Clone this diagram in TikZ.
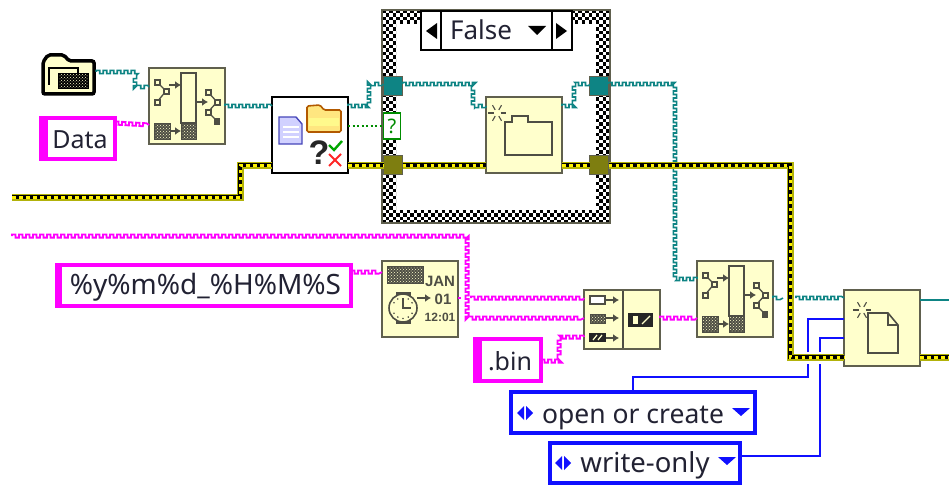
\documentclass[tikz,border=0pt]{standalone}
\usepackage{fontspec}
\setmainfont{Noto Sans}
\newfontfamily\heavyfont{Liberation Sans}
\usetikzlibrary{decorations,arrows.meta,patterns}
\definecolor{strpink}{HTML}{FF00FF}
\definecolor{pathteal}{HTML}{0E8484}
\definecolor{cream}{HTML}{FFFFCC}
\definecolor{edge}{HTML}{60604E}
\definecolor{ink}{HTML}{4E4E44}
\definecolor{errolive}{HTML}{7E7E10}
\definecolor{enumblue}{HTML}{1010FF}
\definecolor{txt}{HTML}{222233}
\pgfdeclaredecoration{sqwave}{up}{
 \state{up}[width=3.5pt,next state=down]{\pgfpathlineto{\pgfpoint{0pt}{1.6pt}}\pgfpathlineto{\pgfpoint{3.5pt}{1.6pt}}}
 \state{down}[width=3.5pt,next state=up]{\pgfpathlineto{\pgfpoint{0pt}{-1.6pt}}\pgfpathlineto{\pgfpoint{3.5pt}{-1.6pt}}}
 \state{final}{\pgfpathlineto{\pgfpointdecoratedpathlast}}
}
\tikzset{
 strwire/.style={draw=strpink,line width=1.8pt,decorate,decoration={sqwave}},
 tealwire/.style={draw=pathteal,line width=1.6pt,decorate,decoration={sqwave}},
 bluewire/.style={draw=enumblue,line width=1.5pt},
 tile/.style={draw=edge,fill=cream,line width=1.6pt,rectangle,anchor=north west,inner sep=0pt,outer sep=0pt,minimum width=76pt,minimum height=76pt},
 whitetile/.style={tile,draw=black,fill=white},
 strconst/.style={draw=strpink,fill=white,line width=4pt,rectangle,inner sep=0pt,outer sep=0pt,font=\fontsize{25}{25}\selectfont,text=txt,text depth=0pt},
 ringconst/.style={strconst,draw=enumblue},
 tunnel/.style={rectangle,draw=edge,line width=1.5pt,minimum width=19pt,minimum height=19pt,inner sep=0pt,outer sep=0pt},
 pen/.style={draw=ink,line width=1.3pt},
 arr/.style={draw=ink,line width=1.6pt,-{Latex[length=6pt,width=8pt]}},
 sq/.style={draw=ink,fill=cream,line width=1.1pt},
 dotbox/.style={draw=ink,line width=1pt,preaction={fill=ink},pattern=crosshatch dots,pattern color=cream},
 lcd/.style={text=ink,inner sep=0pt},
}
\newcommand{\errwire}[1]{%
 \draw[draw=errolive!60!yellow,line width=7pt,line join=miter] #1;
 \draw[draw=black,line width=4.6pt,line join=miter] #1;
 \draw[draw=yellow,line width=3pt,dash pattern=on 3.5pt off 3.5pt] #1;
}
\newcommand{\buildicon}[2]{%
 \begin{scope}[shift={(#1,#2)}]
 \draw[pen] (8,14)--(17,23)--(8,34);
 \draw[sq] (6,12) rectangle (11,17); \draw[sq] (15,21) rectangle (20,26); \draw[sq] (6,32) rectangle (11,37);
 \draw[arr] (20,17)--(32,17);
 \draw[pen] (32,5) rectangle (47,55);
 \draw[dotbox] (32,55) rectangle (47,71);
 \draw[dotbox] (5,55) rectangle (21,71);
 \draw[arr] (22,63)--(32,63);
 \draw[arr] (48,34)--(59,34);
 \draw[pen] (59,24)--(68,34)--(59,44)--(68,53);
 \draw[sq] (57,22) rectangle (62,27); \draw[sq] (66,32) rectangle (71,37); \draw[sq] (57,42) rectangle (62,47);
 \fill[ink] (65,50) rectangle (71,57);
 \end{scope}}
\newcommand{\burst}[2]{%
 \begin{scope}[shift={(#1,#2)}]
 \foreach \a in {0,60,120,180,240,300}{\draw[ink,line width=1.1pt] (\a:3.5pt)--(\a:9pt);}
 \end{scope}}
% checker band: a clipped stack of dashed rows
\newcommand{\checkband}[4]{%
 \begin{scope}
 \clip (#1,#2) rectangle (#3,#4);
 \foreach \k in {0,...,61}{
  \pgfmathsetmacro{\rowy}{10+3.5*\k+1.75}
  \pgfmathsetmacro{\rowp}{mod(\k,2)*3.5}
  \ifdim \rowy pt>#2 pt\relax\ifdim \rowy pt<\numexpr#4+3\relax pt\relax
   \draw[black,line width=3.5pt,dash pattern=on 3.5pt off 3.5pt,dash phase=\rowp pt] (382,\rowy)--(610,\rowy);
  \fi\fi
 }
 \end{scope}}
\begin{document}
\begin{tikzpicture}[x=1pt,y=-1pt]
\useasboundingbox (0,0) rectangle (949,484);
\fill[white] (0,0) rectangle (949,484);

\coordinate (leftend) at (12,197);
\coordinate (strleft) at (12,236);
\coordinate (rightend) at (949,300);

% --- case structure frame
\coordinate (caseTL) at (382,10);
\coordinate (caseBR) at (610,223);
\fill[white] (caseTL) rectangle (caseBR);
\checkband{382}{10}{610}{24}
\checkband{382}{209}{610}{223}
\checkband{382}{24}{396}{209}
\checkband{596}{24}{610}{209}
\draw[edge,line width=1.5pt] (caseTL) rectangle (caseBR);

% --- nodes (tile bodies)
\node[tile] (build1) at (149,68) {};
\node[whitetile] (exists) at (272,97) {};
\node[tile] (mkdir) at (486,97) {};
\node[tile] (build2) at (697,261) {};
\node[tile] (openfile) at (844,290) {};
\node[tile] (fmt) at (382,261) {};
\node[tile,minimum height=59pt] (concat) at (584,290) {};

% --- tunnels
\node[tunnel,fill=pathteal] (tTL) at (393,86) {};
\node[tunnel,fill=pathteal] (tTR) at (599,86) {};
\node[tunnel,fill=errolive] (tBL) at (393,165) {};
\node[tunnel,fill=errolive] (tBR) at (599,165) {};
\node[rectangle,draw=green!55!black,fill=white,line width=1.5pt,minimum width=17pt,minimum height=26pt,inner sep=0pt,font=\fontsize{20}{20}\selectfont,text=green!55!black] (sel) at (392,126) {?};

% --- selector
\node[rectangle,draw=black,fill=white,line width=1.4pt,minimum width=151pt,minimum height=39pt,anchor=north west,inner sep=0pt,outer sep=0pt,font=\fontsize{26}{26}\selectfont,text=txt,text height=18pt,text depth=0pt] (selbox) at (421,11) {\hspace{-31pt}False};
\draw[black,line width=1.4pt] (441,11)--(441,50) (552,11)--(552,50);
\fill[black] (426,31)--(437,23)--(437,39)--cycle;
\fill[black] (567,31)--(556,23)--(556,39)--cycle;
\fill[black] (528,26)--(546,26)--(537,35)--cycle;

% --- constants
\node[strconst,minimum width=74pt,minimum height=41pt,text height=19pt] (data) at (78,138.5) {\hspace{4pt}Data};
\fill[strpink] (data.north west) rectangle +(7,41);
\node[strconst,minimum width=294pt,minimum height=41pt,text height=17pt,font=\fontsize{28}{28}\selectfont] (fmtstr) at (204,285.5) {\hspace{3pt}\%y\%m\%d\_\%H\%M\%S};
\fill[strpink] (fmtstr.north west) rectangle +(5,41);
\node[strconst,minimum width=66pt,minimum height=42pt,text height=20pt] (bin) at (508,360) {\hspace{4pt}.bin};
\fill[strpink] (bin.north west) rectangle +(7,42);
\node[ringconst,minimum width=244pt,minimum height=41pt,text height=21pt,font=\fontsize{26.5}{26.5}\selectfont] (ringA) at (633,412.5) {open or create\hspace{6pt}};
\node[ringconst,minimum width=190pt,minimum height=40pt,text height=18pt,font=\fontsize{27.5}{27.5}\selectfont] (ringB) at (645,463) {write-only\hspace{6pt}};
\fill[enumblue] (732,408)--(750,408)--(741,416)--cycle;
\fill[enumblue] (718,457)--(736,457)--(727,465)--cycle;
\fill[enumblue] (517,413)--(524,406)--(524,420)--cycle (526,406)--(533,413)--(526,420)--cycle;
\fill[enumblue] (555,463)--(562,456)--(562,470)--cycle (564,456)--(571,463)--(564,470)--cycle;

% --- folder constant
\node[inner sep=0pt,minimum size=0pt] (folder) at (96,72) {};
\draw[black,line width=3.5pt,fill=cream,rounded corners=2pt] (43,94)--(43,62)--(48,55)--(64,55)--(69,61)--(94,61)--(94,94)--cycle;
\draw[black,line width=1.4pt] (49,85)--(49,68)--(78,68)--(78,73);
\draw[dotbox,draw=black,preaction={fill=black}] (58,74) rectangle (88,89);

% --- wires
\draw[tealwire] (folder.east)--(135,72)--(135,87)--(build1.west |- 0,87);
\draw[strwire] (data.east |- 0,123)--(build1.west |- 0,125);
\draw[tealwire] (build1.east |- 0,106)--(exists.west |- 0,106);
\draw[tealwire] (exists.east |- 0,106)--(369,106)--(369,84)--(tTL.west |- 0,84);
\draw[tealwire] (tTL.east |- 0,84)--(473,84)--(473,106)--(mkdir.west |- 0,106);
\draw[tealwire] (mkdir.east |- 0,106)--(574,106)--(574,84)--(tTR.west |- 0,84);
\draw[tealwire] (tTR.east |- 0,84)--(675,84)--(675,279)--(build2.west |- 0,279);
\draw[green!55!black,line width=1.6pt,dash pattern=on 2pt off 2.5pt] (exists.east |- 0,126)--(sel.west);
\errwire{(leftend)--(240,197)--(240,165)--(exists.west |- 0,165)}
\errwire{(exists.east |- 0,165)--(tBL.west)}
\errwire{(tBL.east)--(mkdir.west |- 0,165)}
\errwire{(mkdir.east |- 0,165)--(tBR.west)}
\errwire{(tBR.east)--(790,165)--(790,357)--(openfile.west |- 0,357)}
\errwire{(openfile.east |- 0,357)--(949,357)}
\draw[strwire] (strleft)--(467,236)--(467,318)--(concat.west |- 0,318);
\draw[strwire] (fmtstr.east |- 0,272)--(fmt.west |- 0,272);
\draw[strwire] (fmt.east |- 0,298)--(461,298);
\draw[strwire] (471,298)--(concat.west |- 0,298);
\draw[strwire] (bin.east |- 0,361)--(559,361)--(559,337)--(concat.west |- 0,337);
\draw[strwire] (concat.east |- 0,318)--(build2.west |- 0,318);
\draw[tealwire] (build2.east |- 0,298)--(783,298);
\draw[tealwire] (796,298)--(openfile.west |- 0,298);
\draw[draw=pathteal,line width=1.6pt] (openfile.east |- 0,300)--(rightend);
\draw[bluewire] (openfile.west |- 0,319)--(808,319)--(808,352);
\draw[bluewire] (808,364)--(808,377)--(633,377)--(ringA.north -| 633,0);
\draw[bluewire] (openfile.west |- 0,338)--(820,338)--(820,352);
\draw[bluewire] (820,364)--(820,456)--(ringB.east |- 0,456);

% --- icons
\buildicon{149}{68}
\buildicon{697}{261}
% exists icon
\draw[draw=blue!45!gray,fill=blue!18,line width=1.4pt] (279,117)--(296,117)--(302,124)--(302,144)--(279,144)--cycle;
\draw[white,line width=1.2pt] (283,127)--(299,127) (283,132)--(299,132) (283,137)--(299,137);
\draw[draw=orange!70!black,fill=orange!40!yellow!50!white,line width=1.6pt,rounded corners=1.5pt] (307,132)--(307,106)--(320,105)--(324,110)--(341,110)--(341,132)--cycle;
\fill[yellow!45!white] (309,118) rectangle (339,126);
\node[font=\heavyfont\bfseries\fontsize{34}{34}\selectfont,text=black!85,inner sep=0pt] (qmark) at (319,153) {?};
\draw[green!65!black,line width=2.4pt] (329,145)--(334,150)--(342,141);
\draw[red!85!white,line width=1.8pt] (329,154)--(341,166) (341,154)--(329,166);
% mkdir icon
\burst{497}{113}
\draw[ink,line width=1.6pt] (505,155)--(505,122)--(512,122)--(512,116)--(528,116)--(528,122)--(552,122)--(552,155)--cycle;
% open icon
\burst{862}{310}
\draw[ink,line width=1.6pt] (868,313)--(888,313)--(898,325)--(898,353)--(868,353)--cycle;
\draw[ink,line width=1.4pt] (888,313)--(888,325)--(898,325);
% format date icon
\draw[dotbox] (387,266) rectangle (423,283);
\node[lcd,font=\heavyfont\bfseries\fontsize{15}{15}\selectfont] (jan) at (440,281) {JAN};
\node[lcd,font=\heavyfont\bfseries\fontsize{15}{15}\selectfont] (day) at (443,299) {01};
\node[lcd,font=\heavyfont\bfseries\fontsize{12}{12}\selectfont] (tm) at (440,317) {12:01};
\fill[ink] (396,292) rectangle (411,324);
\draw[ink,line width=1.6pt,fill=cream] (403,308) circle[radius=14pt];
\draw[ink,line width=1.4pt] (403,298)--(403,308)--(411,308);
\foreach \a in {30,60,120,150,210,240,270,300,330}{\fill[ink] (403,308) ++(\a:10.5pt) circle[radius=0.9pt];}
\draw[arr] (417,298)--(431,298);
% concat icon
\draw[ink,line width=1.4pt] (623,291)--(623,348);
\draw[sq,fill=white] (590,296) rectangle (605,304);
\draw[dotbox] (590,314) rectangle (605,323);
\fill[black!85] (589,333) rectangle (606,342);
\draw[cream,line width=1.2pt] (593,340)--(597,335) (598,340)--(602,335);
\draw[arr] (606,300)--(619,300);
\draw[arr] (606,318)--(619,318);
\draw[arr] (606,338)--(619,338);
\fill[black!85] (628,313) rectangle (653,327);
\fill[cream] (633,316) rectangle (638,324);
\draw[cream,line width=1.3pt] (642,324)--(650,316);
\end{tikzpicture}
\end{document}
